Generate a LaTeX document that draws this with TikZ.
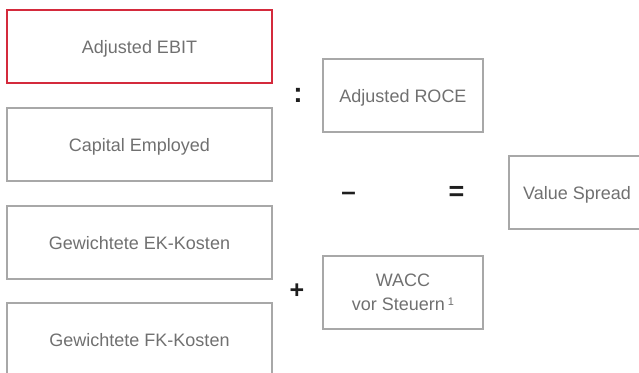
\documentclass[tikz,border=0pt]{standalone}
\usepackage{fontspec}
\setmainfont{Liberation Sans}
\definecolor{boxgray}{HTML}{A8A8A8}
\definecolor{txtgray}{HTML}{707070}
\definecolor{boxred}{HTML}{D42A3C}
\definecolor{opblack}{HTML}{1E1E1E}
\tikzset{
  box/.style={draw=boxgray, line width=1.5pt, rectangle, inner sep=0pt,
    text=txtgray, font=\fontsize{18}{24}\selectfont, align=center},
  oneline/.style={text height=14pt, text depth=0pt},
  leftbox/.style={box, oneline, minimum width=265pt, minimum height=73pt},
  rightbox/.style={box, minimum width=160pt, minimum height=73pt},
  redbox/.style={leftbox, draw=boxred},
  op/.style={text=opblack, inner sep=0pt}
}
\begin{document}
\begin{tikzpicture}[x=1pt,y=-1pt]
\useasboundingbox (0,0) rectangle (639,372);
\clip (0,0) rectangle (639,372);
\node[redbox] (ebit) at (139.5,46.5) {Adjusted EBIT};
\node[leftbox] (ce) at (139.5,144.5) {Capital Employed};
\node[leftbox] (ek) at (139.5,242.5) {Gewichtete EK-Kosten};
\node[leftbox] (fk) at (139.5,339.5) {Gewichtete FK-Kosten};
\node[rightbox, oneline] (roce) at (403,95.5) {Adjusted ROCE};
\node[rightbox] (wacc) at (403,292.5) {WACC\\vor Steuern\,\raisebox{0.5ex}{\fontsize{11}{11}\selectfont 1}};
\node[box, oneline, minimum width=136pt, minimum height=73pt] (vs) at (577,192.5) {Value Spread};
\node[op, font=\fontsize{28}{28}\selectfont\bfseries] (div) at (298,95.5) {:};
\node[op, font=\fontsize{26}{26}\selectfont\bfseries] (minus) at (348.5,196.5) {\textendash};
\node[op, font=\fontsize{27}{27}\selectfont\bfseries] (eq) at (456.5,193.5) {=};
\node[op, font=\fontsize{25}{25}\selectfont\bfseries] (plus) at (297,291) {+};
\end{tikzpicture}
\end{document}
